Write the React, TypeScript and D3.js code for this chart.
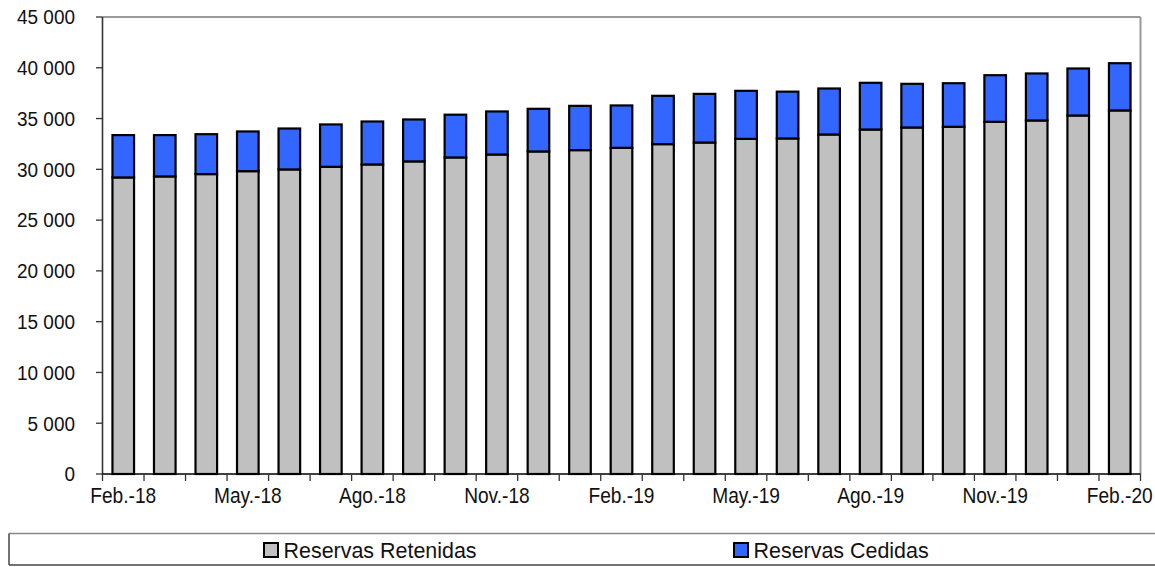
import React from "react";
import * as d3 from "d3";

const categories = [
  "Feb.-18", "Mar.-18", "Abr.-18", "May.-18", "Jun.-18", "Jul.-18", "Ago.-18", "Sep.-18", "Oct.-18",
  "Nov.-18", "Dic.-18", "Ene.-19", "Feb.-19", "Mar.-19", "Abr.-19", "May.-19", "Jun.-19", "Jul.-19",
  "Ago.-19", "Sep.-19", "Oct.-19", "Nov.-19", "Dic.-19", "Ene.-20", "Feb.-20",
];
const retenidas = [
  29200, 29300, 29530, 29820, 29990, 30250, 30480, 30780, 31170, 31460, 31760, 31890, 32120,
  32480, 32640, 33000, 33040, 33430, 33920, 34120, 34190, 34680, 34810, 35300, 35800,
];
const cedidas = [
  4170, 4070, 3930, 3910, 4030, 4170, 4230, 4130, 4210, 4240, 4200, 4360, 4170,
  4760, 4790, 4730, 4610, 4530, 4600, 4300, 4290, 4590, 4630, 4630, 4650,
];
const yTicks = [0, 5000, 10000, 15000, 20000, 25000, 30000, 35000, 40000, 45000];
const labelEvery = 3;
const seriesNames = ["Reservas Retenidas", "Reservas Cedidas"];
const seriesColors = ["#C0C0C0", "#3366FF"];

const W = 1155;
const H = 567;
const left = 102.5;
const right = 1140.5;
const top = 17;
const bottom = 474;
const FONT = "'Liberation Sans', Arial, sans-serif";

function Txt({ x, y, anchor, fs, sx, children }: { x: number; y: number; anchor: string; fs: number; sx: number; children: React.ReactNode }) {
  return (
    <g transform={`translate(${x},${y}) scale(${sx},1)`}>
      <text x={0} y={0} textAnchor={anchor} fontFamily={FONT} fontSize={fs} fill="#111">
        {children}
      </text>
    </g>
  );
}

export default function App() {
  const x = d3.scaleBand<string>().domain(categories).range([left, right]).paddingInner(0.48).paddingOuter(0.24);
  const y = d3.scaleLinear().domain([0, 45000]).range([bottom, top]);
  const fmt = (v: number) => d3.format(",")(v).replace(/,/g, " ");
  const step = x.step();

  const stacked = categories.map((c, i) => ({ c, r: retenidas[i], d: cedidas[i] }));

  return (
    <svg width={W} height={H} style={{ position: "absolute", left: 0, top: 0, background: "#fff" }}>
      {/* plot frame top/right */}
      <line x1={left} x2={right} y1={y(45000)} y2={y(45000)} stroke="#999" strokeWidth={2} />
      <line x1={right} x2={right} y1={y(45000)} y2={bottom} stroke="#999" strokeWidth={2} />

      {/* bars */}
      {stacked.map((s) => {
        const bx = x(s.c)!;
        const bw = x.bandwidth();
        return (
          <g key={s.c}>
            <rect x={bx} y={y(s.r)} width={bw} height={y(0) - y(s.r)} fill={seriesColors[0]} stroke="#000" strokeWidth={2.2} />
            <rect x={bx} y={y(s.r + s.d)} width={bw} height={y(s.r) - y(s.r + s.d)} fill={seriesColors[1]} stroke="#000" strokeWidth={2.2} />
          </g>
        );
      })}

      {/* y axis */}
      <line x1={left} x2={left} y1={top} y2={bottom} stroke="#333" strokeWidth={1.6} />
      {yTicks.map((t) => (
        <g key={t}>
          <line x1={left - 6.5} x2={left} y1={y(t)} y2={y(t)} stroke="#333" strokeWidth={1.3} />
          <Txt x={75} y={y(t) + 7.3} anchor="end" fs={20.5} sx={0.925}>{fmt(t)}</Txt>
        </g>
      ))}

      {/* x axis */}
      <line x1={left} x2={right} y1={bottom} y2={bottom} stroke="#000" strokeWidth={1.6} />
      {d3.range(categories.length + 1).map((i) => (
        <line key={i} x1={left + i * step} x2={left + i * step} y1={bottom} y2={bottom + 7} stroke="#333" strokeWidth={1.3} />
      ))}
      {categories.map((c, i) =>
        i % labelEvery === 0 ? (
          <Txt key={c} x={x(c)! + x.bandwidth() / 2} y={502.5} anchor="middle" fs={21.5} sx={0.89}>{c}</Txt>
        ) : null
      )}

      {/* legend */}
      <line x1={9} x2={W} y1={533.5} y2={533.5} stroke="#888" strokeWidth={1.5} />
      <line x1={9} x2={W} y1={565} y2={565} stroke="#444" strokeWidth={1.5} />
      <line x1={9} x2={9} y1={533.5} y2={565} stroke="#444" strokeWidth={1.5} />
      {seriesNames.map((n, i) => {
        const lx = i === 0 ? 264 : 734;
        return (
          <g key={n}>
            <rect x={lx} y={543} width={14} height={14} fill={seriesColors[i]} stroke="#000" strokeWidth={2} />
            <Txt x={lx + 19.5} y={558} anchor="start" fs={22} sx={0.975}>{n}</Txt>
          </g>
        );
      })}
    </svg>
  );
}
